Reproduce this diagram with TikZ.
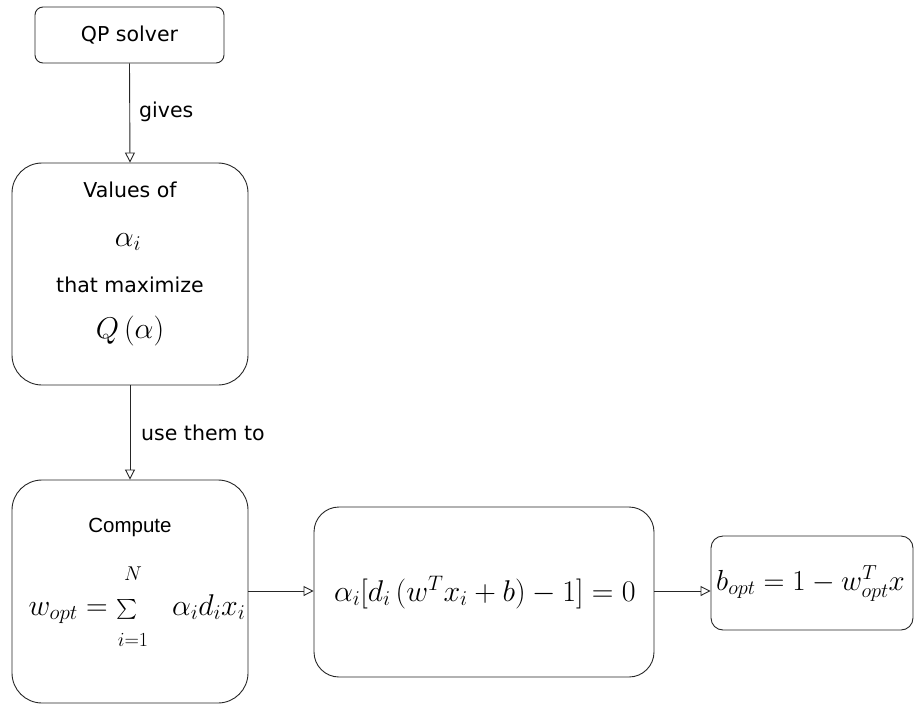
\RequirePackage{fix-cm}
\documentclass[tikz,border=0pt]{standalone}
\usepackage{amsmath}
\usepackage{fontspec}
\setmainfont{DejaVu Sans}
\newfontfamily\arialf{Liberation Sans}
\usetikzlibrary{arrows.meta}
\tikzset{
  box/.style={draw=black!85, line width=0.9pt, inner sep=0pt},
  conn/.style={draw=black!85, line width=0.9pt, -{Triangle[open, length=10pt, width=10pt]}},
  lbl/.style={font=\fontsize{20.5}{24}\selectfont, anchor=west, inner sep=0pt},
  txt/.style={font=\fontsize{20.5}{24}\selectfont, inner sep=0pt},
  mth/.style={font=\fontsize{30}{34}\selectfont, inner sep=0pt},
  lim/.style={font=\fontsize{20}{24}\selectfont, inner sep=0pt},
}
\begin{document}
\begin{tikzpicture}[x=1pt, y=-1pt]
\useasboundingbox (0,0) rectangle (914,705);
% boxes
\node[box, rounded corners=8pt, minimum width=189pt, minimum height=56pt] (qp) at (129.5,35) {};
\node[txt] (qpt) at (129.5,35) {QP solver};
\node[box, rounded corners=30pt, minimum width=236pt, minimum height=222pt] (val) at (130,274) {};
\node[txt] (v1) at (130,190) {Values of};
\node[mth, anchor=base] (v2) at (128,246) {$\alpha_i$};
\node[txt] (v3) at (130,285) {that maximize};
\node[mth, anchor=base] (v4) at (130,338) {$Q\,(\alpha)$};
\node[box, rounded corners=30pt, minimum width=236pt, minimum height=223pt] (cmp) at (130,591.5) {};
\node[txt, font=\arialf\fontsize{20.5}{24}\selectfont] (c1) at (130,527) {Compute};
\node[mth, anchor=base] (c2) at (137,615) {$w_{opt} = \mathop{\resizebox{21pt}{!}{$\sum$}}\quad \alpha_i d_i x_i$};
\node[lim] (cN) at (133,574) {$N$};
\node[lim] (ci) at (133,640) {$i{=}1$};
\node[box, rounded corners=25pt, minimum width=340pt, minimum height=170pt] (kkt) at (484,592) {};
\node[mth, anchor=base west] (k1) at (334,601) {$\alpha_i[d_i\,(w^T x_i + b) - 1] = 0$};
\node[box, rounded corners=12pt, minimum width=202pt, minimum height=94pt] (bo) at (812,583) {};
\node[mth, font=\fontsize{29}{34}\selectfont, anchor=base west] (b1) at (716,590) {$b_{opt} = 1 - w_{opt}^T x$};
% connectors
\draw[conn] (qp.south) -- (val.north);
\draw[conn] (val.south) -- (cmp.north);
\draw[conn] (cmp.east |- 0,591) -- (kkt.west |- 0,591);
\draw[conn] (kkt.east |- 0,591) -- (bo.west |- 0,591);
\node[lbl] (g) at (139,112) {gives};
\node[lbl] (u) at (141,433) {use them to};
\end{tikzpicture}
\end{document}
